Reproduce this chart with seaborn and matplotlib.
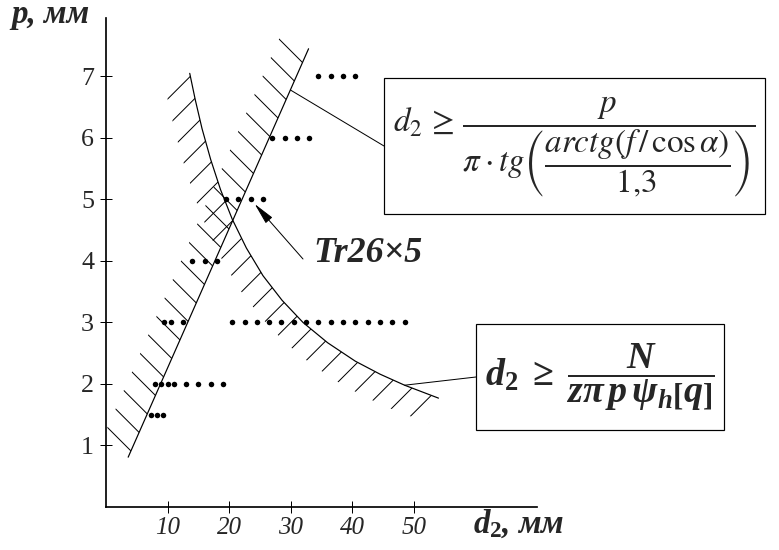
import numpy as np
import pandas as pd
import matplotlib
matplotlib.use("Agg")
import matplotlib.pyplot as plt
from matplotlib.patches import Rectangle
import seaborn as sns

# mean thread diameter d2 (mm) for every pitch p (mm)
d2_p7 = [34.5, 36.5, 38.5, 40.5]
d2_p6 = [27, 29, 31, 33]
d2_p5 = [19.5, 21.5, 23.5, 25.5]
d2_p4 = [14, 16, 18]
d2_p3 = [9.5, 10.5, 12.5, 20.5, 22.5, 24.5, 26.5, 28.5, 30.5, 32.5,
         34.5, 36.5, 38.5, 40.5, 42.5, 44.5, 46.5, 48.5]
d2_p2 = [8, 9, 10, 11, 13, 15, 17, 19]
d2_p15 = [7.25, 8.25, 9.25]
pitches = [7, 6, 5, 4, 3, 2, 1.5]

# self-locking boundary (straight line)
lock_d2 = [3.6, 32.9]
lock_p = [0.81, 7.45]

# wear resistance boundary
wear_d2 = [13.6, 14.5, 15.6, 17.0, 18.6, 20.5, 22.8, 25.5, 28.6, 32.0,
           36.0, 40.5, 44.5, 48.5, 54.0]
wear_p = [7.05, 6.62, 6.15, 5.65, 5.16, 4.68, 4.21, 3.76, 3.36, 3.0,
          2.67, 2.37, 2.16, 1.98, 1.77]

x_ticks = [10, 20, 30, 40, 50]
y_ticks = [1, 2, 3, 4, 5, 6, 7]

W, H, DPI = 779, 550, 80


def pt(px):
    # pixel size -> points at the output dpi
    return px * 72 / DPI


def band(ax, xs, ys, width_px):
    # strip next to a curve, offset along the normal in screen pixels
    pts = ax.transData.transform(np.column_stack([xs, ys]))
    tang = np.gradient(pts, axis=0)
    tang /= np.linalg.norm(tang, axis=1)[:, None]
    normal = np.column_stack([-tang[:, 1], tang[:, 0]])
    poly = np.vstack([pts, (pts + normal * width_px)[::-1]])
    return ax.transData.inverted().transform(poly)


def fig_xy(px, py):
    return px / W, 1 - py / H


sns.set_theme(style="white")
plt.rcParams['font.family'] = ['Liberation Serif', 'DejaVu Serif']
plt.rcParams['mathtext.fontset'] = 'stix'
plt.rcParams['mathtext.it'] = 'Liberation Serif:italic:bold'
plt.rcParams['mathtext.rm'] = 'Liberation Serif:bold'
plt.rcParams['mathtext.bf'] = 'Liberation Serif:italic:bold'
plt.rcParams['hatch.linewidth'] = pt(1.0)

fig = plt.figure(figsize=(W / DPI, H / DPI), dpi=DPI)
ax = fig.add_axes([106 / W, 43 / H, 431 / W, 489 / H])
ax.set_xlim(0, 70)
ax.set_ylim(0, 7.95)

rows = [d2_p7, d2_p6, d2_p5, d2_p4, d2_p3, d2_p2, d2_p15]
dots = pd.DataFrame({
    'd2': [d for row in rows for d in row],
    'p': [p for p, row in zip(pitches, rows) for _ in row],
})

# hatched strips
lock_poly = band(ax, lock_d2, lock_p, 31)
ax.fill(lock_poly[:, 0], lock_poly[:, 1], facecolor='none', edgecolor='black',
        hatch='\\', linewidth=0)
wear_poly = band(ax, wear_d2, wear_p, -27)
ax.fill(wear_poly[:, 0], wear_poly[:, 1], facecolor='none', edgecolor='black',
        hatch='/', linewidth=0)

sns.lineplot(x=lock_d2, y=lock_p, sort=False, estimator=None, color='black',
             linewidth=pt(1.2), ax=ax)
sns.lineplot(x=wear_d2, y=wear_p, sort=False, estimator=None, color='black',
             linewidth=pt(1.2), ax=ax)
sns.scatterplot(data=dots, x='d2', y='p', color='black', s=pt(5.5) ** 2,
                linewidth=0, ax=ax, zorder=5)

sns.despine(ax=ax)
for s in ['left', 'bottom']:
    ax.spines[s].set_color('black')
    ax.spines[s].set_linewidth(pt(1.7))
ax.set_xticks(x_ticks)
ax.set_yticks(y_ticks)
ax.set_xticklabels([str(t) for t in x_ticks], fontstyle='italic',
                   fontsize=pt(25))
ax.set_yticklabels([str(t) for t in y_ticks], fontsize=pt(26))
ax.tick_params(direction='inout', length=pt(12), width=pt(1), color='black',
               bottom=True, left=True)
ax.tick_params(axis='x', pad=pt(4))
ax.tick_params(axis='y', pad=pt(6))
ax.set_xlabel('')
ax.set_ylabel('')

fig.text(*fig_xy(11, 23), 'p, мм', fontsize=pt(33), fontstyle='italic',
         fontweight='bold', ha='left', va='baseline')
fig.text(*fig_xy(473, 533), '$d_2$, мм', fontsize=pt(33), fontstyle='italic',
         fontweight='bold', ha='left', va='baseline', math_fontfamily='custom')

# formula boxes
box1 = (384, 78, 765, 214)
box2 = (476, 324, 724, 430)
for x0, y0, x1, y1 in [box1, box2]:
    fig.add_artist(Rectangle(fig_xy(x0, y1), (x1 - x0) / W, (y1 - y0) / H,
                             transform=fig.transFigure, fill=False,
                             edgecolor='black', linewidth=pt(1.2)))

fig.text(*fig_xy((box1[0] + box1[2]) / 2, (box1[1] + box1[3]) / 2 + 1),
         r'$d_2\,\geq\,\dfrac{p}{\pi \cdot tg\left(\dfrac{arctg\left(f\,/\,\cos\alpha\right)}{1{,}3}\right)}$',
         fontsize=pt(33), ha='center', va='center', math_fontfamily='stix')
fig.text(*fig_xy((box2[0] + box2[2]) / 2, (box2[1] + box2[3]) / 2),
         r'$d_2\;\geq\;\dfrac{N}{z\pi\, p\, \psi_h \left[q\right]}$',
         fontsize=pt(38), ha='center', va='center', math_fontfamily='custom')

# leader lines
lock_label_p = 6.78
ax.annotate('', xy=(np.interp(lock_label_p, lock_p, lock_d2), lock_label_p),
            xytext=fig_xy(box1[0], (box1[1] + box1[3]) / 2),
            textcoords='figure fraction',
            arrowprops=dict(arrowstyle='-', color='black', lw=pt(1),
                            shrinkA=0, shrinkB=0))
ax.annotate('', xy=(wear_d2[13], wear_p[13]),
            xytext=fig_xy(box2[0], (box2[1] + box2[3]) / 2),
            textcoords='figure fraction',
            arrowprops=dict(arrowstyle='-', color='black', lw=pt(1),
                            shrinkA=0, shrinkB=0))

# Tr26x5 pointer
ax.annotate('', xy=(23.5, 5), xytext=fig_xy(303, 259),
            textcoords='figure fraction',
            arrowprops=dict(arrowstyle='-|>,head_length=1.1,head_width=0.22',
                            color='black', lw=pt(1), mutation_scale=pt(17),
                            shrinkA=0, shrinkB=pt(6)))
fig.text(*fig_xy(313, 262), 'Tr26×5', fontsize=pt(36), fontstyle='italic',
         fontweight='bold', ha='left', va='baseline')

fig.savefig('out.png', dpi=DPI, facecolor='white')
